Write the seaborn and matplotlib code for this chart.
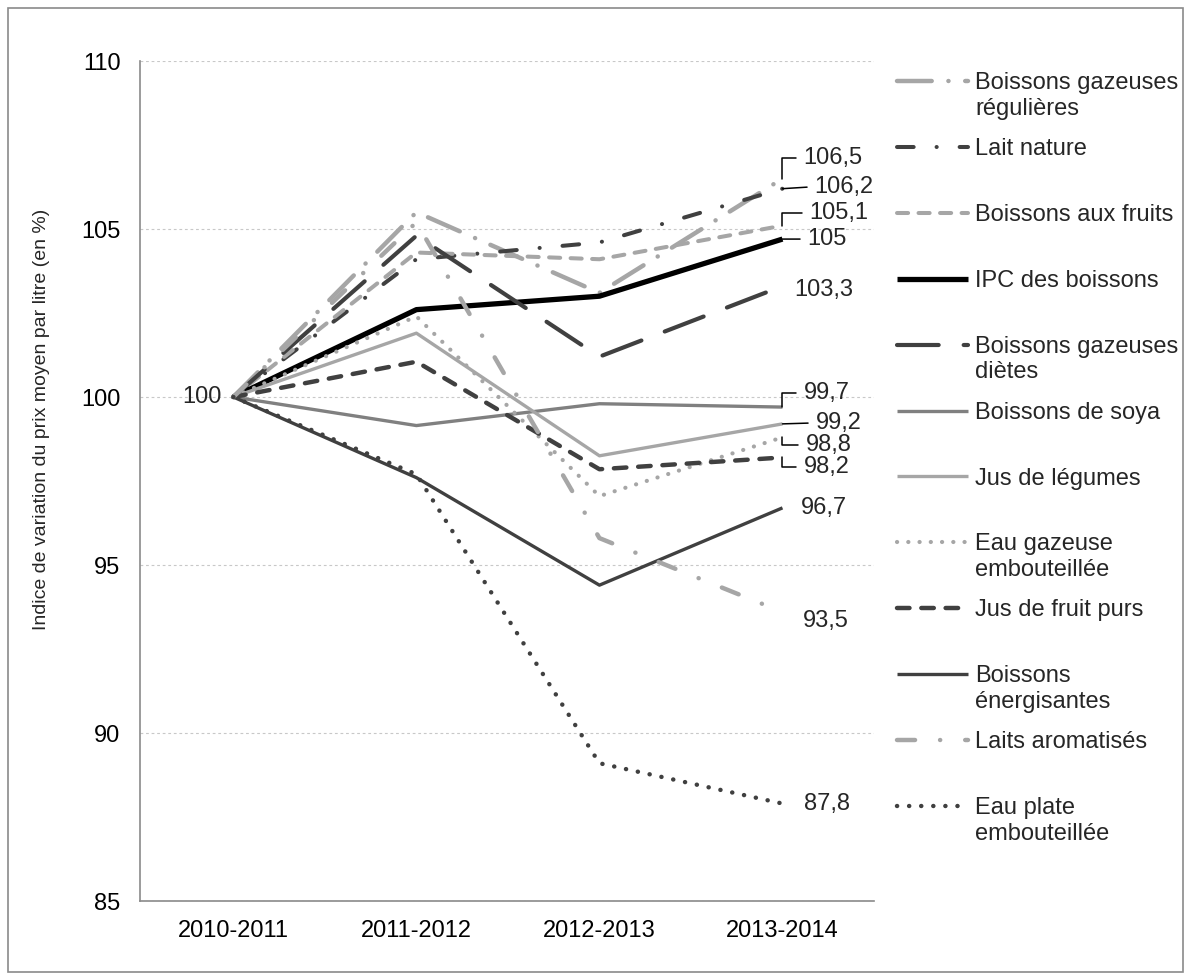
import numpy as np
import pandas as pd
import matplotlib.pyplot as plt
import seaborn as sns
from matplotlib.patches import Rectangle

# Data
annees = ["2010-2011", "2011-2012", "2012-2013", "2013-2014"]

series = [
    "Boissons gazeuses\nrégulières",
    "Lait nature",
    "Boissons aux fruits",
    "IPC des boissons",
    "Boissons gazeuses\ndiètes",
    "Boissons de soya",
    "Jus de légumes",
    "Eau gazeuse\nembouteillée",
    "Jus de fruit purs",
    "Boissons\nénergisantes",
    "Laits aromatisés",
    "Eau plate\nembouteillée",
]

gazeuses_regulieres = [100, 105.5, 103.1, 106.5]
lait_nature = [100, 104.1, 104.6, 106.2]
boissons_fruits = [100, 104.3, 104.1, 105.1]
ipc_boissons = [100, 102.6, 103.0, 104.7]
gazeuses_dietes = [100, 104.8, 101.2, 103.3]
boissons_soya = [100, 99.15, 99.8, 99.7]
jus_legumes = [100, 101.9, 98.25, 99.2]
eau_gazeuse = [100, 102.4, 97.05, 98.8]
jus_fruit_purs = [100, 101.05, 97.85, 98.2]
energisantes = [100, 97.6, 94.4, 96.7]
laits_aromatises = [100, 105.2, 95.8, 93.6]
eau_plate = [100, 97.7, 89.1, 87.9]

valeurs = [gazeuses_regulieres, lait_nature, boissons_fruits, ipc_boissons,
           gazeuses_dietes, boissons_soya, jus_legumes, eau_gazeuse,
           jus_fruit_purs, energisantes, laits_aromatises, eau_plate]

# data labels shown at the end of each line
etiquettes_fin = ["106,5", "106,2", "105,1", "105", "103,3", "99,7",
                  "99,2", "98,8", "98,2", "96,7", "93,5", "87,8"]

df = pd.DataFrame({
    "annee": annees * len(series),
    "serie": np.repeat(series, len(annees)),
    "indice": np.concatenate(valeurs),
})

# Styles (colour, width in pt, linestyle)
clair = "#a6a6a6"
fonce = "#404040"
moyen = "#808080"
styles = {
    series[0]: (clair, 3.2, (0, (25, 12, 0.1, 12))),
    series[1]: (fonce, 2.9, (0, (12, 16.5, 0.1, 16.5))),
    series[2]: (clair, 2.9, (0, (8, 7.5))),
    series[3]: ("black", 3.8, "-"),
    series[4]: (fonce, 3.0, (0, (30, 18))),
    series[5]: (moyen, 2.4, "-"),
    series[6]: (clair, 2.4, "-"),
    series[7]: (clair, 3.0, (0, (0.1, 8))),
    series[8]: (fonce, 3.2, (0, (9, 8.5))),
    series[9]: (fonce, 2.4, "-"),
    series[10]: (clair, 3.2, (0, (13, 18, 0.1, 18))),
    series[11]: (fonce, 3.2, (0, (0.1, 8.6))),
}

# label offsets in pixels from the last point, and leader type
positions_etiquettes = [
    (21, 21, "coude"), (32, 2, "droit"), (27, 13, "coude"), (25, 0, "droit"),
    (12, -4, None), (21, 14, "coude"), (33, 1, "droit"), (23, -8, "coude"),
    (21, -10, "coude"), (18, 0, None), (20, -9, None), (22, 0, None),
]

sns.set_style("white")
plt.rcParams["font.family"] = ["Liberation Sans", "DejaVu Sans"]
plt.rcParams["lines.scale_dashes"] = False

fig = plt.figure(figsize=(11.91, 9.80), dpi=100)
ax = fig.add_axes([140 / 1191, 1 - 901 / 980, 734 / 1191, 840 / 980])

for nom in series:
    couleur, lw, ls = styles[nom]
    sns.lineplot(
        data=df[df["serie"] == nom], x="annee", y="indice", ax=ax,
        color=couleur, linewidth=lw, linestyle=ls, sort=False,
        dash_capstyle="round", solid_capstyle="butt", legend=False,
    )

ax.set_xlim(-0.51, 3.5)
ax.set_ylim(85, 110)
ax.set_yticks(range(85, 111, 5))
ax.yaxis.grid(True, linestyle=(0, (2, 2)), color="#c8c8c8", linewidth=0.8)
ax.xaxis.grid(False)
ax.set_axisbelow(True)
for cote in ["top", "right"]:
    ax.spines[cote].set_visible(False)
for cote in ["left", "bottom"]:
    ax.spines[cote].set_color("#8a8a8a")
    ax.spines[cote].set_linewidth(1.2)
ax.tick_params(axis="both", colors="#8a8a8a", length=5, width=1.2,
               labelcolor="black", labelsize=17)
ax.tick_params(axis="x", pad=9)
ax.tick_params(axis="y", pad=9)
ax.set_xlabel("")
ax.set_ylabel("Indice de variation du prix moyen par litre (en %)", fontsize=14)
ax.yaxis.set_label_coords(-0.123, 0.573)

# starting label
ax.annotate("100", xy=(0, ipc_boissons[0]), xytext=(-12, 0),
            textcoords="offset pixels", ha="right", va="center", fontsize=17)

# end labels
for vals, texte, (dx, dy, lien) in zip(valeurs, etiquettes_fin, positions_etiquettes):
    props = None
    if lien == "coude":
        props = dict(arrowstyle="-", color="black", lw=1.1, shrinkA=3, shrinkB=0,
                     relpos=(0, 0.5), connectionstyle="angle,angleA=0,angleB=90,rad=0")
    elif lien == "droit":
        props = dict(arrowstyle="-", color="black", lw=1.1, shrinkA=3, shrinkB=0,
                     relpos=(0, 0.5))
    ax.annotate(texte, xy=(3, vals[-1]), xytext=(dx, dy), textcoords="offset pixels",
                ha="left", va="center", fontsize=17, arrowprops=props)

# legend: every entry gets the same slot height, handle on the first line
poignees = ax.get_lines()[:len(series)]
libelles = [s if "\n" in s else s + "\n" for s in series]
leg = fig.legend(poignees, libelles, loc="upper left",
                 bbox_to_anchor=(897 / 1191, 1 - 72 / 980), frameon=False,
                 fontsize=17, handlelength=3.0, handletextpad=0.3,
                 labelspacing=0.77, borderpad=0, borderaxespad=0, handleheight=0.9)
for colonne in leg._legend_handle_box.get_children():
    for ligne in colonne.get_children():
        ligne.align = "top"
for t in leg.get_texts():
    t.set_linespacing(1.22)

# outer frame
fig.add_artist(Rectangle((8 / 1191, 8 / 980), 1175 / 1191, 964 / 980,
                         transform=fig.transFigure, fill=False,
                         edgecolor="#8a8a8a", linewidth=1.2))

fig.savefig("out.png", dpi=100)
